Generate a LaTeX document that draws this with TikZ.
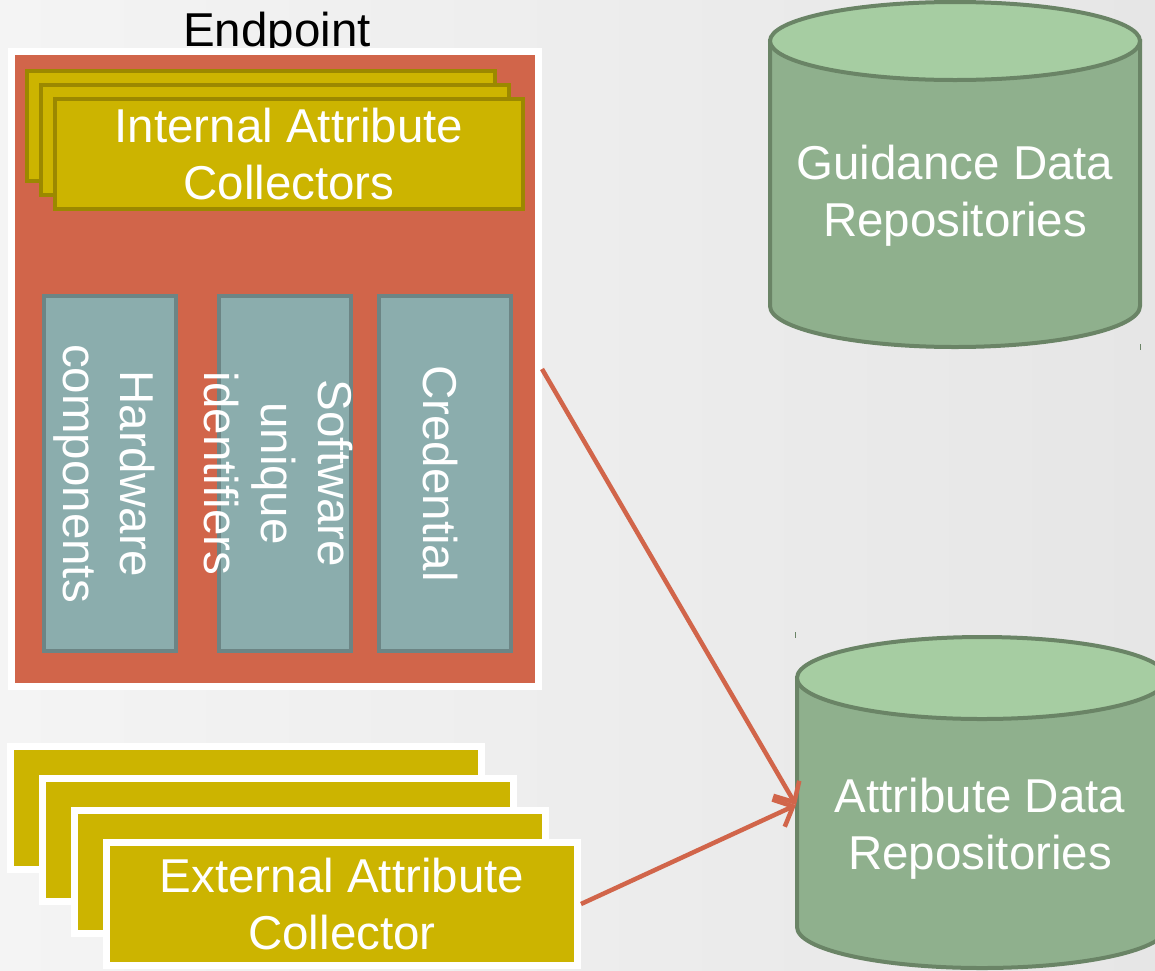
\documentclass[tikz,border=0pt]{standalone}
\usepackage{fontspec}
\setmainfont{Liberation Sans}
\usepackage{xcolor}
\usetikzlibrary{
  arrows.meta,
  positioning
}
\definecolor{epred}   {HTML}{D1654A}
\definecolor{colyel}  {HTML}{CCB400}
\definecolor{cololive}{HTML}{9B8800}
\definecolor{idteal}  {HTML}{8BADAD}
\definecolor{idline}  {HTML}{6C8585}
\definecolor{cylbody} {HTML}{8FB08D}
\definecolor{cyltop}  {HTML}{A6CDA2}
\definecolor{cylline} {HTML}{6A8466}
\definecolor{bgleft}  {HTML}{F4F4F4}
\definecolor{bgright} {HTML}{E6E6E6}

\begin{document}
\begin{tikzpicture}[
  x=1pt, y=-1pt,
  every node/.style={font=\fontsize{47.5}{57}\selectfont, text=white, align=center},
  endpt/.style={rectangle, fill=epred, draw=white, line width=7pt,
                minimum width=527pt, minimum height=635pt},
  intcol/.style={rectangle, fill=colyel, draw=cololive, line width=4pt,
                 minimum width=468pt, minimum height=110pt},
  ident/.style={rectangle, fill=idteal, draw=idline, line width=4pt,
                minimum width=132pt, minimum height=355pt},
  vtext/.style={rotate=-90},
  extcol/.style={rectangle, fill=colyel, draw=white, line width=7pt,
                 minimum width=471pt, minimum height=123pt},
  cyl/.style={fill=cylbody, draw=cylline, line width=4pt},
  cyltopf/.style={fill=cyltop, draw=cylline, line width=4pt},
  arr/.style={-{Straight Barb[length=16pt,width=30pt]}, line width=4.5pt, draw=epred},
]

% -- Background ---------------------------------
\useasboundingbox (0,0) rectangle (1155,970);
\clip (0,0) rectangle (1155,970);
\shade[left color=bgleft, right color=bgright] (0,0) rectangle (1155,970);

% -- Endpoint -----------------------------------
\node[anchor=base, text=black] (eptitle) at (277,46) {Endpoint};
\node[endpt] (endpoint) at (275,369) {};

% -- Internal collectors (stacked) --------------
\node[intcol] (int1) at (261,126) {};
\node[intcol] (int2) at (275,140) {};
\node[intcol] (int3) at (289,154) {Internal Attribute\\Collectors};

% -- Attribute columns --------------------------
\node[ident] (hw)   at (110,473.5)   {};
\node[ident] (sw)   at (284.5,473.5) {};
\node[ident] (cred) at (445,473.5)   {};
\node[vtext] (hwtxt)   at (104,473.5) {Hardware\\components};
\node[vtext] (swtxt)   at (278,473.5) {Software\\unique\\identifiers};
\node[vtext] (credtxt) at (440,473.5) {Credential};

% -- External collectors (stacked) --------------
\node[extcol] (ext1) at (246,808) {};
\node[extcol] (ext2) at (278,840) {};
\node[extcol] (ext3) at (310,872) {};
\node[extcol] (ext4) at (342,904) {External Attribute\\Collector};

% -- Guidance repository ------------------------
\path[cyl] (770,41) -- (770,306)
  arc[start angle=180, end angle=0, x radius=185, y radius=41] -- (1140,41) -- cycle;
\path[cyltopf] (955,41) ellipse[x radius=185, y radius=39];
\node (guid) at (955,196) {Guidance Data\\Repositories};

% -- Attribute repository -----------------------
\path[cyl] (797,678) -- (797,927)
  arc[start angle=180, end angle=0, x radius=185, y radius=41] -- (1167,678) -- cycle;
\path[cyltopf] (982,678) ellipse[x radius=185, y radius=41];
\node (attr) at (980,829) {Attribute Data\\Repositories};
\coordinate (attrin) at (796,805);

% stray marks
\draw[cylline, line width=1pt] (1140,344) -- (1140,350);
\draw[cylline, line width=1pt] (795,632) -- (795,638);

% -- Arrows -------------------------------------
\draw[arr] (endpoint.east) -- (attrin);
\draw[arr] (ext4.east) -- (attrin);

\end{tikzpicture}
\end{document}
